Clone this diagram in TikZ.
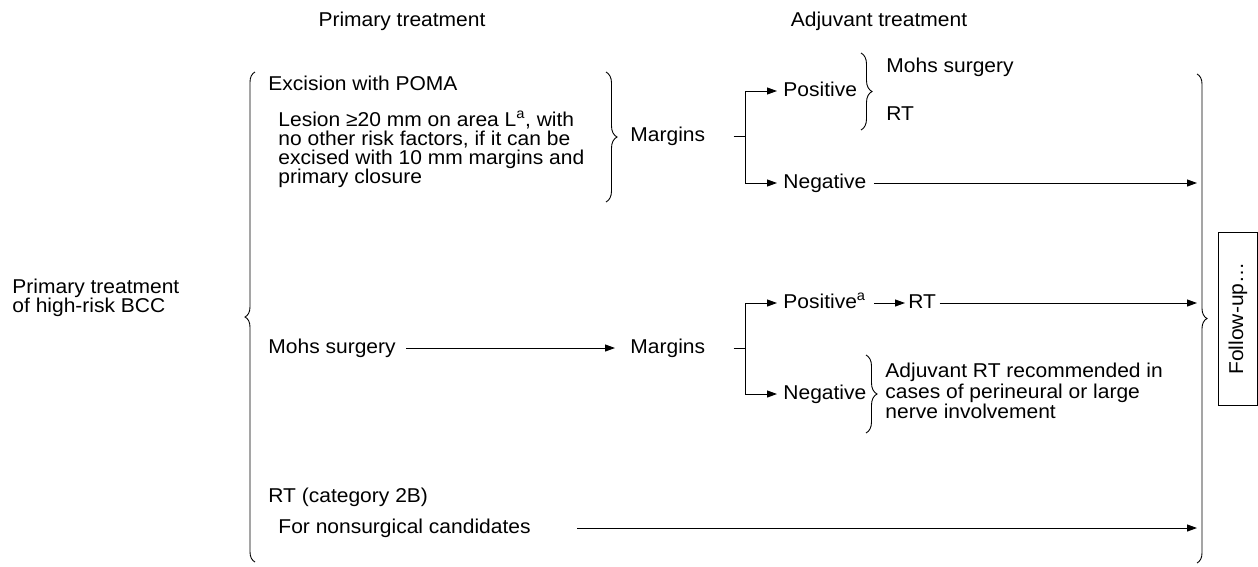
\documentclass[tikz,border=0pt]{standalone}
\usepackage{fontspec}
\setmainfont{Liberation Sans}[FakeStretch=1.05]
\usetikzlibrary{arrows.meta,decorations.pathreplacing}
\begin{document}
\begin{tikzpicture}[x=1pt,y=-1pt,line width=0.9pt,
	font=\fontsize{20}{19}\selectfont,
	txt/.style={anchor=west,inner sep=0pt,text height=14.5pt,text depth=4.3pt},
	para/.style={anchor=north west,inner sep=0pt,align=left,font=\fontsize{20}{#1}\selectfont},
	arr/.style={-{Triangle[length=10pt,width=7pt]},shorten >=#1},
	arr/.default=0pt,
	brc/.style={decorate,decoration={brace,amplitude=#1}}]
			\useasboundingbox (0,0) rectangle (1258,566);
			\node (hprim) at (402,21) {Primary treatment};
			\node (hadj) at (879,21) {Adjuvant treatment};
			\node[para=19pt] (bcc) at (12,279) {Primary treatment\\of high-risk BCC};
			\node[txt] (exc) at (268,85) {Excision with POMA};
			\node[para=19pt] (les) at (278,111) {Lesion ≥20 mm on area L\textsuperscript{a}, with\\no other risk factors, if it can be\\excised with 10 mm margins and\\primary closure};
			\node[txt] (mar1) at (630,136) {Margins};
			\node[txt] (pos1) at (783,91) {Positive};
			\node[txt] (neg1) at (783,183) {Negative};
			\node[txt] (mohs1) at (886,67) {Mohs surgery};
			\node[txt] (rt1) at (886,115) {RT};
			\node[txt] (mohs2) at (268,348) {Mohs surgery};
			\node[txt] (mar2) at (630,348) {Margins};
			\node[txt] (posa) at (783,303) {Positive\textsuperscript{a}};
			\node[txt] (rt2) at (908,303) {RT};
			\node[txt] (neg2) at (783,394) {Negative};
			\node[para=20.5pt] (adj) at (885,363) {Adjuvant RT recommended in\\cases of perineural or large\\nerve involvement};
			\node[txt] (rtc) at (268,497) {RT (category 2B)};
			\node[txt] (fns) at (278,528) {For nonsurgical candidates};
			\node[draw,rotate=90,inner sep=0pt,minimum width=173pt,minimum height=39.5pt] (fu) at (1238,318.5) {Follow-up…};
			\coordinate (fuin) at (1197,0);
			\coordinate (j1) at (745,136);
			\coordinate (j2) at (745,348);
			\draw[brc=10pt] (255,562) -- (255,72);
			\draw[brc=10pt] (1197,74) -- (1197,563);
			\draw[brc=11pt] (606,72) -- (606,202);
			\draw[brc=11pt] (861,53) -- (861,130);
			\draw[brc=11pt] (866,355) -- (866,433);
			\draw ([xshift=28pt]mar1.east) -- (j1);
			\draw[arr=6pt] (j1) |- (pos1.west);
			\draw[arr=6pt] (j1) |- (neg1.west);
			\draw[arr] ([xshift=7pt]neg1.east) -- (neg1.east -| fuin);
			\draw[arr=15pt] ([xshift=10pt]mohs2.east) -- (mar2.west);
			\draw ([xshift=28pt]mar2.east) -- (j2);
			\draw[arr=6pt] (j2) |- (posa.west);
			\draw[arr=6pt] (j2) |- (neg2.west);
			\draw[arr=3pt] ([xshift=8pt]posa.east) -- (rt2.west);
			\draw[arr] ([xshift=3pt]rt2.east) -- (rt2.east -| fuin);
			\draw[arr] ([xshift=46pt]fns.east) -- (fns.east -| fuin);
		\end{tikzpicture}
\end{document}
